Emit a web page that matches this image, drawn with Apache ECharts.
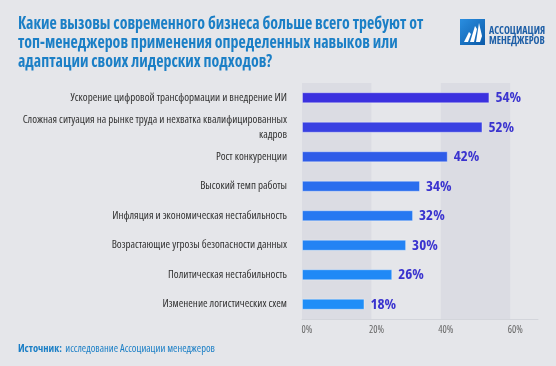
<!DOCTYPE html>
<html>
<head>
<meta charset="utf-8">
<script src="https://cdn.jsdelivr.net/npm/echarts@6/dist/echarts.min.js"></script>
<style>
html,body{margin:0;padding:0;background:#e5e6ea;}
#c{width:556px;height:366px;}
</style>
</head>
<body>
<div id="c"></div>
<script>
const categories = [
  "Ускорение цифровой трансформации и внедрение ИИ",
  "Сложная ситуация на рынке труда и нехватка квалифицированных\nкадров",
  "Рост конкуренции",
  "Высокий темп работы",
  "Инфляция и экономическая нестабильность",
  "Возрастающие угрозы безопасности данных",
  "Политическая нестабильность",
  "Изменение логистических схем"
];
const values = [54, 52, 42, 34, 32, 30, 26, 18];
const barColors = ["#3b31df", "#3941e2", "#2f5ce8", "#2a6eee", "#2678f1", "#2383f4", "#2089f6", "#1f8ef7"];
const titleText = "Какие вызовы современного бизнеса больше всего требуют от\nтоп-менеджеров применения определенных навыков или\nадаптации своих лидерских подходов?";
const sourceLabel = "Источник:";
const sourceText = "исследование Ассоциации менеджеров";
const logoText = "АССОЦИАЦИЯ\nМЕНЕДЖЕРОВ";

const FF = "'Open Sans', 'Roboto Condensed', sans-serif";
const NW = 'normal condensed';   // regular weight, condensed width
const BW = 'bold condensed';     // bold weight, condensed width
const chart = echarts.init(document.getElementById('c'), null, {renderer: 'canvas'});
chart.setOption({
  backgroundColor: '#e5e6ea',
  animation: false,
  grid: {left: 302, right: 18, top: 83, bottom: 47, containLabel: false, outerBoundsMode: 'none'},
  xAxis: {
    type: 'value', min: 0, max: 68, interval: 20,
    axisLine: {show: true, lineStyle: {color: '#d3d5db', width: 1}},
    axisTick: {show: false},
    splitLine: {show: false},
    splitArea: {show: true, areaStyle: {color: ['#dbdce3', 'rgba(0,0,0,0)']}},
    axisLabel: {
      formatter: '{value}%', showMaxLabel: false, margin: 6,
      padding: [0, 0, 0, 10],
      fontFamily: FF, fontWeight: NW, fontSize: 10, color: '#666'
    }
  },
  yAxis: {
    type: 'category', data: categories, inverse: true,
    axisLine: {show: false}, axisTick: {show: false},
    axisLabel: {margin: 15, fontFamily: FF, fontWeight: NW, fontSize: 11, color: '#333', lineHeight: 15, align: 'right'}
  },
  series: [{
    type: 'bar',
    data: values.map((v, i) => ({value: v, itemStyle: {color: barColors[i]}})),
    barWidth: 11,
    itemStyle: {borderColor: 'rgba(255,255,255,0.35)', borderWidth: 1},
    label: {
      show: true, position: 'right', distance: 6,
      formatter: '{c}%',
      fontFamily: FF, fontWeight: BW, fontSize: 15, color: '#3a33cf'
    }
  }],
  graphic: [
    {
      type: 'text', x: 18, y: 15, scaleX: 0.935,
      style: {text: titleText, fontFamily: FF, fontWeight: BW, fontSize: 17, fill: '#1b7fc6', lineHeight: 19}
    },
    {
      type: 'group', left: 460, top: 19,
      children: [
        {type: 'rect', shape: {x: 0, y: 0, width: 25, height: 26},
          style: {fill: new echarts.graphic.LinearGradient(0, 0, 1, 1, [{offset: 0, color: '#2a8ee0'}, {offset: 1, color: '#0b5aa8'}])}},
        {type: 'polygon', shape: {points: [[4, 23], [8, 23], [11, 15], [9, 13]]}, style: {fill: '#fff'}},
        {type: 'polygon', shape: {points: [[10, 23], [14, 23], [17, 10], [15, 7]]}, style: {fill: '#fff'}},
        {type: 'polygon', shape: {points: [[16, 23], [20, 23], [22, 17], [19, 4]]}, style: {fill: '#fff'}}
      ]
    },
    {
      type: 'text', left: 489, top: 26,
      style: {text: logoText, fontFamily: FF, fontWeight: BW, fontSize: 10, fill: '#1d5ea6', lineHeight: 10}
    },
    {
      type: 'text', left: 18, top: 343,
      style: {
        text: '{b|' + sourceLabel + '} {n|' + sourceText + '}',
        rich: {
          b: {fontFamily: FF, fontWeight: BW, fontSize: 10.5, fill: '#1b7fc6'},
          n: {fontFamily: FF, fontWeight: NW, fontSize: 10.5, fill: '#1b7fc6'}
        }
      }
    }
  ]
});
</script>
</body>
</html>
